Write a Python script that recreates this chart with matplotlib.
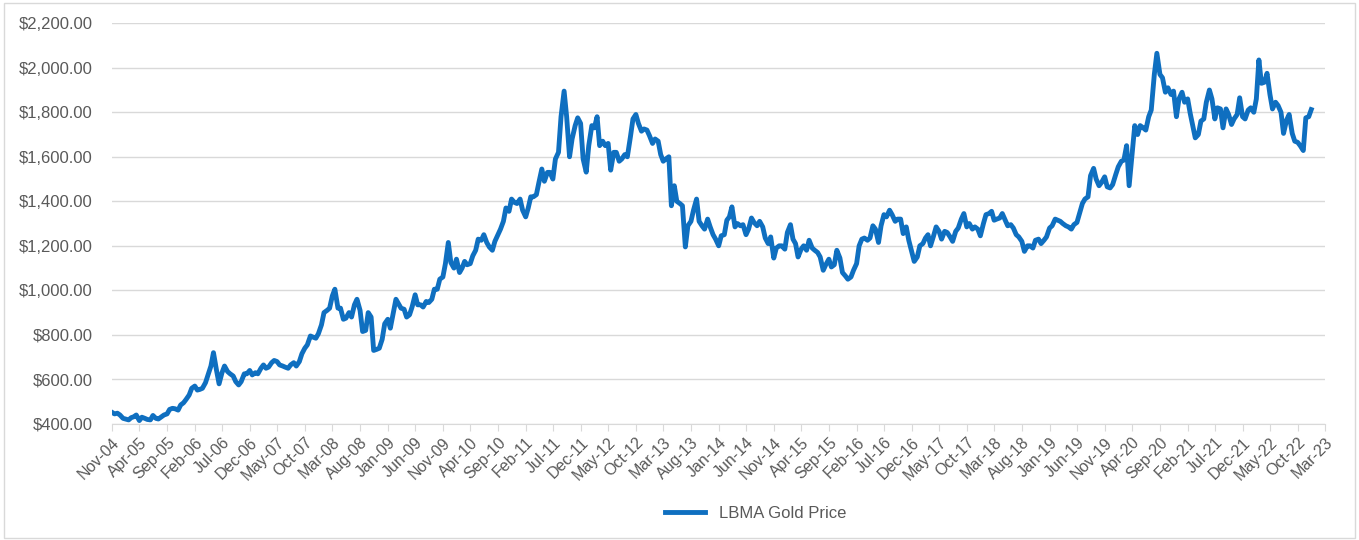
# gold_price.py
# LBMA gold price, Nov 2004 - Dec 2022 (twice a month)

import matplotlib.pyplot as plt
import matplotlib.dates as mdates
import matplotlib.ticker as mticker
import pandas as pd
from matplotlib.patches import Rectangle

plt.rcParams["font.family"] = ["Liberation Sans", "DejaVu Sans"]

# Prices on the 1st and 15th of each month (USD / oz).
price_2004 = [452, 445, 448, 440]  # Nov, Dec
price_2005 = [425, 422, 418, 428, 432, 440, 415, 430, 425, 420, 418, 438,
              425, 422, 432, 440, 445, 465, 470, 468, 462, 485, 495, 510]
price_2006 = [530, 560, 570, 552, 555, 560, 585, 620, 660, 720, 640, 580,
              630, 660, 635, 625, 615, 590, 575, 590, 625, 625, 640, 620]
price_2007 = [630, 625, 650, 665, 650, 655, 675, 685, 680, 665, 660, 655,
              650, 665, 675, 660, 680, 715, 740, 755, 795, 790, 785, 805]
price_2008 = [845, 900, 910, 920, 975, 1005, 920, 920, 870, 875, 900, 880,
              935, 960, 910, 815, 820, 900, 880, 730, 735, 740, 780, 850]
price_2009 = [870, 830, 900, 960, 940, 920, 915, 880, 890, 925, 980, 935,
              935, 925, 950, 945, 960, 1005, 1005, 1050, 1060, 1120, 1215, 1125]
price_2010 = [1100, 1140, 1080, 1100, 1130, 1115, 1120, 1155, 1180, 1230, 1225, 1250,
              1215, 1195, 1180, 1220, 1250, 1275, 1310, 1370, 1355, 1410, 1395, 1390]
price_2011 = [1410, 1360, 1330, 1370, 1420, 1420, 1430, 1485, 1545, 1490, 1530, 1530,
              1500, 1590, 1620, 1780, 1895, 1780, 1600, 1680, 1740, 1775, 1750, 1590]
price_2012 = [1531, 1650, 1740, 1730, 1780, 1650, 1670, 1650, 1660, 1540, 1620, 1620,
              1580, 1590, 1610, 1600, 1690, 1770, 1790, 1750, 1715, 1725, 1720, 1695]
price_2013 = [1660, 1680, 1670, 1610, 1580, 1590, 1600, 1380, 1470, 1400, 1390, 1380,
              1195, 1290, 1310, 1360, 1410, 1310, 1290, 1275, 1320, 1285, 1250, 1230]
price_2014 = [1200, 1245, 1250, 1315, 1330, 1375, 1285, 1300, 1290, 1295, 1250, 1275,
              1325, 1305, 1290, 1310, 1285, 1235, 1210, 1240, 1145, 1190, 1200, 1200]
price_2015 = [1185, 1260, 1295, 1230, 1210, 1150, 1185, 1200, 1180, 1225, 1190, 1180,
              1170, 1150, 1090, 1115, 1140, 1105, 1115, 1180, 1145, 1080, 1065, 1050]
price_2016 = [1060, 1090, 1120, 1200, 1230, 1235, 1225, 1235, 1290, 1275, 1215, 1290,
              1340, 1330, 1360, 1340, 1310, 1320, 1320, 1255, 1285, 1225, 1175, 1130]
price_2017 = [1150, 1200, 1210, 1235, 1250, 1200, 1245, 1285, 1265, 1230, 1265, 1260,
              1240, 1220, 1265, 1280, 1320, 1345, 1285, 1300, 1275, 1285, 1275, 1245]
price_2018 = [1300, 1340, 1345, 1355, 1315, 1320, 1325, 1345, 1315, 1290, 1295, 1280,
              1250, 1240, 1220, 1175, 1200, 1200, 1190, 1225, 1230, 1210, 1225, 1240]
price_2019 = [1280, 1290, 1320, 1315, 1310, 1300, 1290, 1285, 1275, 1295, 1305, 1345,
              1390, 1410, 1420, 1515, 1548, 1500, 1470, 1485, 1510, 1465, 1460, 1475]
price_2020 = [1520, 1555, 1580, 1585, 1650, 1470, 1620, 1740, 1700, 1740, 1730, 1720,
              1780, 1810, 1970, 2065, 1970, 1955, 1890, 1910, 1880, 1895, 1780, 1860]
price_2021 = [1890, 1845, 1860, 1795, 1740, 1685, 1700, 1760, 1770, 1845, 1900, 1860,
              1770, 1820, 1815, 1730, 1815, 1790, 1745, 1770, 1790, 1865, 1780, 1770]
price_2022 = [1810, 1820, 1800, 1860, 2035, 1930, 1935, 1975, 1880, 1815, 1845, 1830,
              1800, 1705, 1765, 1790, 1705, 1670, 1665, 1650, 1628, 1775, 1780, 1812]

prices = (price_2004 + price_2005 + price_2006 + price_2007 + price_2008 + price_2009
          + price_2010 + price_2011 + price_2012 + price_2013 + price_2014 + price_2015
          + price_2016 + price_2017 + price_2018 + price_2019 + price_2020 + price_2021
          + price_2022)
dates = pd.date_range("2004-11-01", periods=len(prices), freq="SMS")

# Axis ticks every five months, Nov-04 to Mar-23.
tick_dates = pd.date_range("2004-11-01", "2023-03-01", freq="5MS")

# Chart.
fig = plt.figure(figsize=(13.59, 5.4), dpi=100)
ax = fig.add_axes([0.0824, 0.215, 0.8926, 0.742])
ax.plot(dates, prices, color="#0f6fc0", linewidth=3.5, label="LBMA Gold Price")

ax.set_xlim(pd.Timestamp("2004-11-01"), pd.Timestamp("2023-03-01"))
ax.set_ylim(400, 2200)
ax.set_yticks(range(400, 2201, 200))
ax.yaxis.set_major_formatter(mticker.FuncFormatter(lambda v, p: f"${v:,.2f}"))

ax.set_xticks(tick_dates)
ax.xaxis.set_major_formatter(mdates.DateFormatter("%b-%y"))
plt.setp(ax.get_xticklabels(), rotation=45, ha="right", rotation_mode="anchor")

# Excel-like styling.
ax.grid(axis="y", color="#d9d9d9", linewidth=1)
ax.set_axisbelow(True)
for side in ["top", "right", "left"]:
    ax.spines[side].set_visible(False)
ax.spines["bottom"].set_color("#d9d9d9")
ax.tick_params(axis="y", length=0, labelsize=12, labelcolor="#595959", pad=14)
ax.tick_params(axis="x", length=5, color="#d9d9d9", labelsize=11.5,
               labelcolor="#595959", pad=3)

fig.legend(loc="center", bbox_to_anchor=(0.556, 0.05), frameon=False,
           fontsize=12, labelcolor="#595959", handlelength=2.4)

# Outer chart border.
fig.patches.append(Rectangle((0.003, 0.004), 0.994, 0.99, transform=fig.transFigure,
                             fill=False, edgecolor="#d9d9d9", linewidth=1))

fig.savefig("out.png", dpi=100)
